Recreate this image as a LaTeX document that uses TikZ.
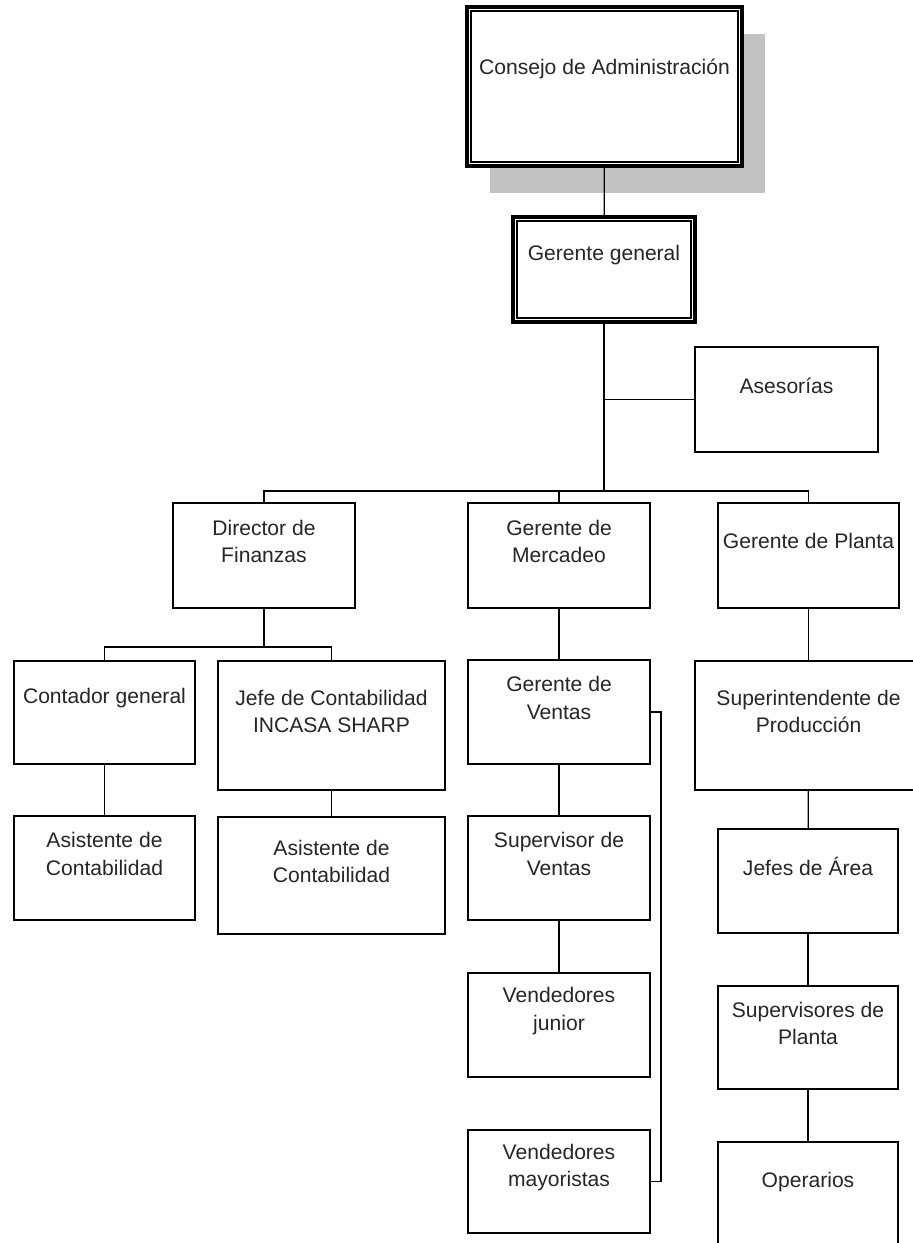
\documentclass[tikz,border=0pt]{standalone}
\usepackage{fontspec}
\setmainfont{Liberation Sans}
\usetikzlibrary{shadows}

\begin{document}
\begin{tikzpicture}[x=0.02cm, y=-0.02cm, line join=miter,
	box/.style={draw, line width=1.2pt, fill=white, inner sep=0pt},
	lbl/.style={align=center, yshift=8pt, text=black!85, font=\fontsize{12}{15.5}\selectfont},
	link/.style={line width=0.7pt}]

	\useasboundingbox (0,0) rectangle (912,1243);

	% cabeza
	\node[box, line width=2pt, minimum width=275*0.02cm, minimum height=159*0.02cm,
		drop shadow={shadow xshift=13pt, shadow yshift=-15.3pt, fill=black!24, opacity=1},
		label={[lbl, yshift=2pt]center:Consejo de Administración}] (cons) at (604.5,86.5) {};
	\draw[line width=0.9pt] ([shift={(6,6)}]cons.north west) rectangle ([shift={(-6,-6)}]cons.south east);

	\node[box, line width=2pt, minimum width=182*0.02cm, minimum height=105*0.02cm,
		label={[lbl]center:Gerente general}] (gg) at (604,269.5) {};
	\draw[line width=0.9pt] ([shift={(6,6)}]gg.north west) rectangle ([shift={(-6,-6)}]gg.south east);

	\node[box, minimum width=183*0.02cm, minimum height=105*0.02cm,
		label={[lbl]center:Asesorías}] (ases) at (786.5,399.5) {};

	% directores
	\node[box, minimum width=182*0.02cm, minimum height=105*0.02cm,
		label={[lbl]center:Director de\\Finanzas}] (dir) at (264,555.5) {};
	\node[box, minimum width=182*0.02cm, minimum height=105*0.02cm,
		label={[lbl]center:Gerente de\\Mercadeo}] (merc) at (559,555.5) {};
	\node[box, minimum width=181*0.02cm, minimum height=105*0.02cm,
		label={[lbl]center:Gerente de Planta}] (plan) at (808.5,555.5) {};

	% finanzas
	\node[box, minimum width=181*0.02cm, minimum height=103*0.02cm,
		label={[lbl]center:Contador general}] (cont) at (104.5,712.5) {};
	\node[box, minimum width=227*0.02cm, minimum height=129*0.02cm,
		label={[lbl]center:Jefe de Contabilidad\\INCASA SHARP}] (jefe) at (331.5,725.5) {};
	\node[box, minimum width=181*0.02cm, minimum height=104*0.02cm,
		label={[lbl]center:Asistente de\\Contabilidad}] (asisA) at (104.5,868) {};
	\node[box, minimum width=227*0.02cm, minimum height=117*0.02cm,
		label={[lbl]center:Asistente de\\Contabilidad}] (asisB) at (331.5,875.5) {};

	% mercadeo
	\node[box, minimum width=182*0.02cm, minimum height=104*0.02cm,
		label={[lbl]center:Gerente de\\Ventas}] (vent) at (559,712) {};
	\node[box, minimum width=182*0.02cm, minimum height=104*0.02cm,
		label={[lbl]center:Supervisor de\\Ventas}] (supv) at (559,868) {};
	\node[box, minimum width=182*0.02cm, minimum height=104*0.02cm,
		label={[lbl]center:Vendedores\\junior}] (jun) at (559,1025) {};
	\node[box, minimum width=182*0.02cm, minimum height=103*0.02cm,
		label={[lbl]center:Vendedores\\mayoristas}] (may) at (559,1181.5) {};

	% planta
	\node[box, minimum width=227*0.02cm, minimum height=129*0.02cm,
		label={[lbl]center:Superintendente de\\Producción}] (supt) at (808.5,725.5) {};
	\node[box, minimum width=180*0.02cm, minimum height=104*0.02cm,
		label={[lbl]center:Jefes de Área}] (jefes) at (808,881) {};
	\node[box, minimum width=180*0.02cm, minimum height=103*0.02cm,
		label={[lbl]center:Supervisores de\\Planta}] (supp) at (808,1037.5) {};
	\node[box, minimum width=180*0.02cm, minimum height=108*0.02cm,
		label={[lbl]center:Operarios}] (oper) at (808,1196) {};

	\coordinate (bus) at (gg.south |- 0,491);
	\coordinate (rama) at (gg.south |- ases.west);
	\coordinate (fin) at (dir.south |- 0,647);
	\coordinate (lazo) at (661,0);

	\draw[link] (cons) -- (gg);
	\draw[line width=1.2pt] (gg) -- (bus);
	\draw[link] (rama) -- (ases.west);
	\draw[link] (dir.north) |- (bus) -| (plan.north);
	\draw[link] (merc.north) -- (merc.north |- bus);

	\draw[link] (dir) -- (fin);
	\draw[link] (cont.north) |- (fin) -| (jefe.north);
	\draw[link] (cont) -- (asisA);
	\draw[link] (jefe) -- (asisB);

	\draw[link] (merc) -- (vent);
	\draw[link] (vent) -- (supv);
	\draw[link] (supv) -- (jun);
	\draw[link] (vent.east) -| (lazo |- may.east) -- (may.east);

	\draw[link] (plan) -- (supt);
	\draw[link] (supt) -- (jefes);
	\draw[link] (jefes) -- (supp);
	\draw[link] (supp) -- (oper);

\end{tikzpicture}
\end{document}
